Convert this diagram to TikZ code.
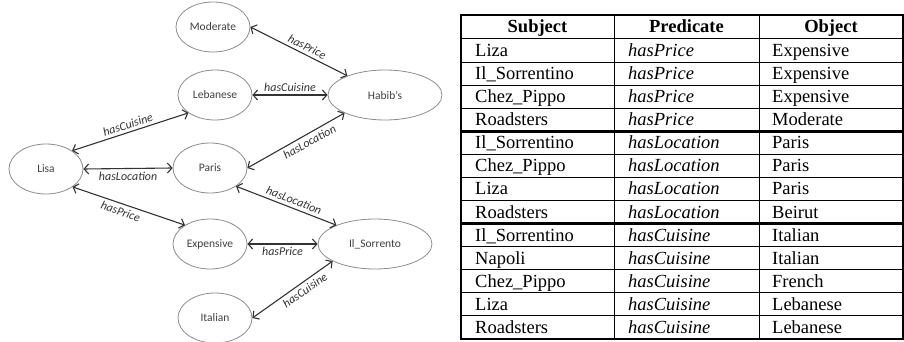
\documentclass[tikz,border=0pt]{standalone}
\usepackage{fontspec}
\setmainfont{Liberation Serif}
\newfontfamily\graphfont{Carlito}
\usetikzlibrary{arrows.meta, shapes.geometric}

\definecolor{rimgray}{HTML}{8C8C8C}
\definecolor{labelgray}{HTML}{404040}
\definecolor{arrowgray}{HTML}{333333}

\begin{document}
\begin{tikzpicture}[x=1pt, y=-1pt,
  concept/.style  = {ellipse, draw=rimgray, line width=0.8pt,
                     minimum width=74pt, minimum height=50pt, inner sep=0pt,
                     font=\graphfont\fontsize{11.5}{13}\selectfont,
                     text=labelgray},
  wideconcept/.style = {concept, minimum width=114pt},
  rel/.style      = {{Straight Barb[length=4.5pt,width=10pt]}-{Straight Barb[length=4.5pt,width=10pt]},
                     line width=1.1pt, draw=arrowgray},
  rlabel/.style   = {font=\graphfont\itshape\fontsize{12}{14}\selectfont,
                     text=arrowgray, sloped, inner sep=3pt},
  cell/.style     = {anchor=base west, inner sep=0pt,
                     font=\fontsize{18.5}{20}\selectfont},
  cellit/.style   = {cell, font=\fontsize{18.5}{20}\selectfont\itshape},
  headcell/.style = {anchor=base, inner sep=0pt,
                     font=\fontsize{18.5}{20}\selectfont\bfseries},
]
\useasboundingbox (0,0) rectangle (904,342);

%% ── graph ───────────────────────────────────────────────────────────────────
\node[concept]     (Moderate)   at (213, 27) {Moderate};
\node[concept]     (Lebanese)   at (215, 95) {Lebanese};
\node[wideconcept] (Habibs)     at (385, 95) {Habib’s};
\node[concept]     (Lisa)       at ( 46,169) {Lisa};
\node[concept]     (Paris)      at (210,168) {Paris};
\node[concept]     (Expensive)  at (210,244) {Expensive};
\node[wideconcept] (IlSorrento) at (375,244) {Il\_Sorrento};
\node[concept]     (Italian)    at (215,318) {Italian};

\draw[rel] (Moderate.east) -- node[rlabel, above, pos=0.55] {hasPrice} (Habibs.153);
\draw[rel] (Lebanese.east) -- node[rlabel, above] {hasCuisine} (Habibs.west);
\draw[rel] (Lisa.35) -- node[rlabel, above] {hasCuisine} (Lebanese.-146);
\draw[rel] (Lisa.east) -- node[rlabel, below] {hasLocation} (Paris.west);
\draw[rel] (Paris.east) -- node[rlabel, below, pos=0.6] {hasLocation} (Habibs.204);
\draw[rel] (Lisa.-34) -- node[rlabel, below, pos=0.45] {hasPrice} (Expensive.143);
\draw[rel] (Paris.-35) -- node[rlabel, above, pos=0.55] {hasLocation} (IlSorrento.154);
\draw[rel] (Expensive.east) -- node[rlabel, below] {hasPrice} (IlSorrento.west);
\draw[rel] (Italian.east) -- node[rlabel, below, pos=0.6] {hasCuisine} (IlSorrento.202);

%% ── triple table ────────────────────────────────────────────────────────────
\draw[line width=1pt] (614,15) -- (614,339);
\draw[line width=1pt] (759,15) -- (759,339);
\foreach \k in {0,1,2,3,5,6,7,9,10,11,12}
  \draw[line width=1pt] (461,39+23.077*\k) -- (903,39+23.077*\k);
\foreach \k in {4,8}
  \draw[line width=3.5pt] (461,39+23.077*\k) -- (903,39+23.077*\k);
\draw[line width=1.6pt] (461,15) rectangle (903,339);

\node[headcell] at (537.5,33) {Subject};
\node[headcell] at (686.5,33) {Predicate};
\node[headcell] at (831.0,33) {Object};

\foreach \subj/\pred/\obj [count=\i from 0] in {
    Liza/hasPrice/Expensive, Il\_Sorrentino/hasPrice/Expensive,
    Chez\_Pippo/hasPrice/Expensive, Roadsters/hasPrice/Moderate,
    Il\_Sorrentino/hasLocation/Paris, Chez\_Pippo/hasLocation/Paris,
    Liza/hasLocation/Paris, Roadsters/hasLocation/Beirut,
    Il\_Sorrentino/hasCuisine/Italian, Napoli/hasCuisine/Italian,
    Chez\_Pippo/hasCuisine/French, Liza/hasCuisine/Lebanese,
    Roadsters/hasCuisine/Lebanese}
{
  \pgfmathsetmacro\yb{39+23.077*\i+17.5}
  \node[cell]   at (475,\yb) {\subj};
  \node[cellit] at (628,\yb) {\pred};
  \node[cell]   at (772,\yb) {\obj};
}

\end{tikzpicture}
\end{document}
